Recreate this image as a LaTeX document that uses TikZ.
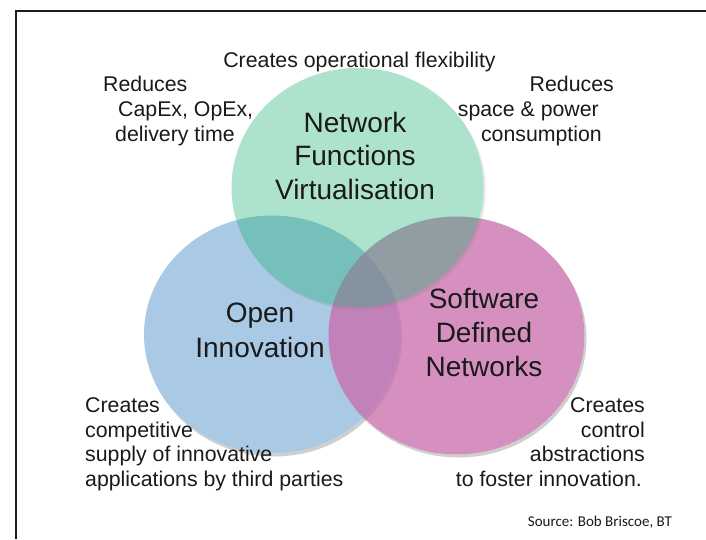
\documentclass[tikz,border=0pt]{standalone}
\usepackage{fontspec}
\setmainfont{Liberation Sans}
\newfontfamily\srcfont{Carlito}
\definecolor{cblue}{RGB}{169,201,229}
\definecolor{cpink}{RGB}{200,107,171}
\definecolor{cgreen}{RGB}{28,178,114}
\definecolor{ink}{RGB}{26,26,26}
\definecolor{framec}{RGB}{30,30,30}
\definecolor{shadowc}{RGB}{120,120,120}
\begin{document}
\begin{tikzpicture}[x=1pt,y=-1pt,
  small/.style={inner sep=0pt,text=ink,font=\fontsize{21.3}{25}\selectfont},
  big/.style={inner sep=0pt,text=ink,font=\fontsize{28}{34}\selectfont,anchor=base},
  src/.style={inner sep=0pt,text=ink,font=\srcfont\fontsize{15}{18}\selectfont},
  framel/.style={draw=framec,line width=2pt}]
\useasboundingbox (0,0) rectangle (706,539);
\fill[white] (0,0) rectangle (706,539);
% frame
\draw[framel] (16,11) -- (706,11);
\draw[framel] (16,10) -- (16,539);
% blue circle with shadow
\begin{scope}[even odd rule]
  \clip (0,0) rectangle (706,539) (272,334.5) ellipse [x radius=128,y radius=119];
  \fill[shadowc,opacity=0.35] (274,337.5) ellipse [x radius=128,y radius=119];
\end{scope}
\fill[cblue] (272,334.5) ellipse [x radius=128,y radius=119];
% pink circle with shadow
\begin{scope}[even odd rule]
  \clip (0,0) rectangle (706,539) (456.5,335.5) ellipse [x radius=128,y radius=119];
  \fill[shadowc,opacity=0.35] (458.5,338.5) ellipse [x radius=128,y radius=119];
\end{scope}
\fill[cpink,opacity=0.75] (456.5,335.5) ellipse [x radius=128,y radius=119];
% green circle with shadow
\begin{scope}[even odd rule]
  \clip (0,0) rectangle (706,539) (357.5,187.5) ellipse [x radius=126,y radius=119.5];
  \fill[shadowc,opacity=0.18] (359.5,190) ellipse [x radius=126,y radius=119.5];
\end{scope}
\fill[cgreen,opacity=0.36] (357.5,187.5) ellipse [x radius=126,y radius=119.5];
% big labels
\node[big] (nfv1) at (355,132) {Network};
\node[big] (nfv2) at (355,165.5) {Functions};
\node[big] (nfv3) at (355,199) {Virtualisation};
\node[big] (oi1) at (260,322) {Open};
\node[big] (oi2) at (260,357) {Innovation};
\node[big] (sdn1) at (484,308) {Software};
\node[big] (sdn2) at (484,342) {Defined};
\node[big] (sdn3) at (484,376) {Networks};
% small labels
\node[small,anchor=base] (top) at (359.5,67) {Creates operational flexibility};
\node[small,anchor=base west] (tl1) at (103,91) {Reduces};
\node[small,anchor=base west] (tl2) at (118,116) {CapEx, OpEx,};
\node[small,anchor=base west] (tl3) at (115,141) {delivery time};
\node[small,anchor=base east] (tr1) at (614,91) {Reduces};
\node[small,anchor=base east] (tr2) at (599,116) {space \& power};
\node[small,anchor=base east] (tr3) at (602,141) {consumption};
\node[small,anchor=base west] (bl1) at (85,412) {Creates};
\node[small,anchor=base west] (bl2) at (85,437) {competitive};
\node[small,anchor=base west] (bl3) at (85,461.5) {supply of innovative};
\node[small,anchor=base west] (bl4) at (85,486) {applications by third parties};
\node[small,anchor=base east] (br1) at (645,412) {Creates};
\node[small,anchor=base east] (br2) at (645,437) {control};
\node[small,anchor=base east] (br3) at (645,461.5) {abstractions};
\node[small,anchor=base east] (br4) at (642,486) {to foster innovation.};
\node[src,anchor=base east] (source) at (672,526) {Source: Bob Briscoe, BT};
\end{tikzpicture}
\end{document}
